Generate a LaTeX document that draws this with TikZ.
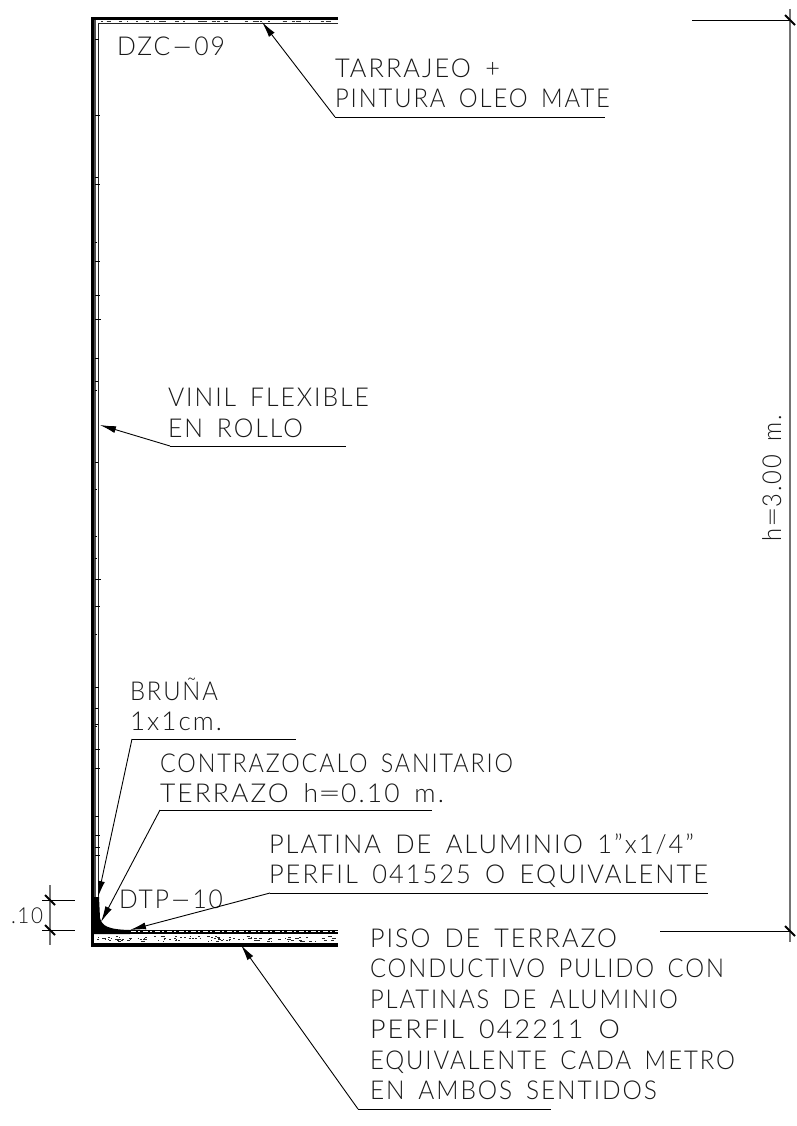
\documentclass[tikz,border=0pt]{standalone}
\usepackage{fontspec}
\usepackage{graphicx}
\setmainfont{Lato Light}[LetterSpace=8,WordSpace=1.6]
\usetikzlibrary{arrows.meta}
\newcommand{\lbl}[5]{\node[txt] (#1) at (#2,#3) {\resizebox{#4pt}{\height}{#5}};}
\newcommand{\hy}{\scalebox{2.6}[1]{-}}
\newcommand{\eqs}{\scalebox{1.5}[1]{=}}
\tikzset{
  txt/.style={anchor=base west,inner sep=0pt,outer sep=0pt,font=\fontsize{26}{26}\selectfont,text=black!90},
  leader/.style={draw=black,line width=0.9pt,{Latex[length=16pt,width=7pt]}-},
  shelf/.style={draw=black,line width=0.9pt},
  dimln/.style={draw=black!55,line width=1.5pt},
  tick/.style={draw=black,line width=2pt},
  wall/.style={draw=black,line width=3.5pt,line cap=rect,line join=miter},
  finish/.style={draw=black!85,line width=1.4pt},
  speck/.style={draw=black!85,line width=0.5pt}
}
\begin{document}
\begin{tikzpicture}[x=1pt,y=-1pt]
\useasboundingbox (0,0) rectangle (796,1126);
\fill[white] (0,0) rectangle (796,1126);
% wall finish band
\fill[black!70] (93,20) rectangle (95.9,900);
% wall, ceiling and floor structure
\draw[wall] (336.5,18.5) -- (92.5,18.5) -- (92.5,945) -- (336.5,945);
\draw[finish] (338,23.5) -- (98.2,23.5) -- (98.2,897);
% floor band
\draw[draw=black,line width=3.4pt] (128,932) -- (338,932);
\draw[draw=white,line width=0.7pt,dash pattern=on 5pt off 2pt on 2pt off 3pt] (131,931.6) -- (338,931.6);
% base fillet
\fill[black] (94,897) -- (99,897) -- (100,918) .. controls (102,926) and (108,929.5) .. (130,930)
  -- (130,934) -- (94,934) -- cycle;
\pgfmathsetseed{71}
% specks in the floor screed
\foreach \i in {1,...,110}{
  \pgfmathsetmacro{\px}{96+rnd*241}
  \pgfmathsetmacro{\py}{936+rnd*5.5}
  \pgfmathsetmacro{\pl}{0.8+rnd*2.6}
  \draw[speck] (\px,\py) -- ++(\pl,0);
}
% specks in the ceiling finish
\foreach \i in {1,...,40}{
  \pgfmathsetmacro{\px}{100+rnd*235}
  \pgfmathsetmacro{\pl}{1+rnd*4}
  \draw[draw=black!80,line width=0.5pt] (\px,21.6) -- ++(\pl,0);
}
% marks along the wall
\foreach \i in {1,...,28}{
  \pgfmathsetmacro{\py}{28+rnd*860}
  \pgfmathsetmacro{\pl}{2+rnd*4}
  \draw[draw=black,line width=0.5pt] (95,\py) -- ++(\pl,0);
}
% labels
\lbl{dzc}{117}{56}{108}{DZC\hy09}
\lbl{t1a}{335}{77.5}{165}{TARRAJEO +}
\lbl{t1b}{335}{108}{275}{PINTURA OLEO MATE}
\lbl{t2a}{168}{406.5}{201}{VINIL FLEXIBLE}
\lbl{t2b}{168}{437}{135}{EN ROLLO}
\lbl{t3a}{130}{700}{88}{BRUÑA}
\lbl{t3b}{130}{730}{92}{1x1cm.}
\lbl{t4a}{160}{772}{353}{CONTRAZOCALO SANITARIO}
\lbl{t4b}{160}{802}{284}{TERRAZO h\eqs0.10 m.}
\lbl{t5a}{269}{853}{425}{PLATINA DE ALUMINIO 1"x1/4"}
\lbl{t5b}{269}{883.5}{439}{PERFIL 041525 O EQUIVALENTE}
\lbl{dtp}{119}{908}{104}{DTP\hy10}
\lbl{t6a}{370}{947}{247}{PISO DE TERRAZO}
\lbl{t6b}{370}{977.5}{354}{CONDUCTIVO PULIDO CON}
\lbl{t6c}{370}{1008}{308}{PLATINAS DE ALUMINIO}
\lbl{t6d}{370}{1038.5}{250}{PERFIL 042211 O}
\lbl{t6e}{370}{1069}{365}{EQUIVALENTE CADA METRO}
\lbl{t6f}{370}{1099.5}{287}{EN AMBOS SENTIDOS}
\node[txt,font=\fontsize{22}{22}\selectfont] (dimsmall) at (11,923) {\resizebox{32pt}{\height}{.10}};
\node[txt,rotate=90] (dimh) at (781,541) {\resizebox{126pt}{\height}{h\eqs3.00 m.}};
% leaders
\coordinate (a1) at (262,22);  \coordinate (b1) at (335,117);  \coordinate (c1) at (605,117);
\coordinate (a2) at (100,425); \coordinate (b2) at (170,446);  \coordinate (c2) at (346,446);
\coordinate (a3) at (98,897);  \coordinate (b3) at (132,739);  \coordinate (c3) at (296,739);
\coordinate (a4) at (101,922); \coordinate (b4) at (160,810);  \coordinate (c4) at (432,810);
\coordinate (a5) at (130,930); \coordinate (b5) at (270,893);  \coordinate (c5) at (708,893);
\coordinate (a6) at (241,945); \coordinate (b6) at (358,1109); \coordinate (c6) at (551,1109);
\foreach \n in {1,...,6}{
  \draw[leader] (a\n) -- (b\n);
  \draw[shelf] (b\n) -- (c\n);
}
% dimension h
\coordinate (dt) at (790,20); \coordinate (db) at (790,931);
\coordinate (et) at (692,20); \coordinate (eb) at (660,931);
\coordinate (dt2) at (790,9); \coordinate (db2) at (790,942);
\draw[dimln] (dt2) -- (db2);
\draw[shelf] (et) -- (dt);
\draw[shelf] (eb) -- (db);
\draw[tick] ([shift={(-5,-5)}]dt) -- ([shift={(5,5)}]dt);
\draw[tick] ([shift={(-5,-5)}]db) -- ([shift={(5,5)}]db);
% dimension .10
\coordinate (st) at (50,900); \coordinate (sb) at (50,930);
\coordinate (st2) at (50,885); \coordinate (sb2) at (50,945);
\coordinate (ste) at (75,900); \coordinate (sbe) at (75,930);
\draw[dimln] (st2) -- (sb2);
\draw[shelf] ([xshift=-8pt]st) -- (ste);
\draw[shelf] ([xshift=-8pt]sb) -- (sbe);
\draw[tick] ([shift={(-5,-5)}]st) -- ([shift={(5,5)}]st);
\draw[tick] ([shift={(-5,-5)}]sb) -- ([shift={(5,5)}]sb);
\end{tikzpicture}
\end{document}
